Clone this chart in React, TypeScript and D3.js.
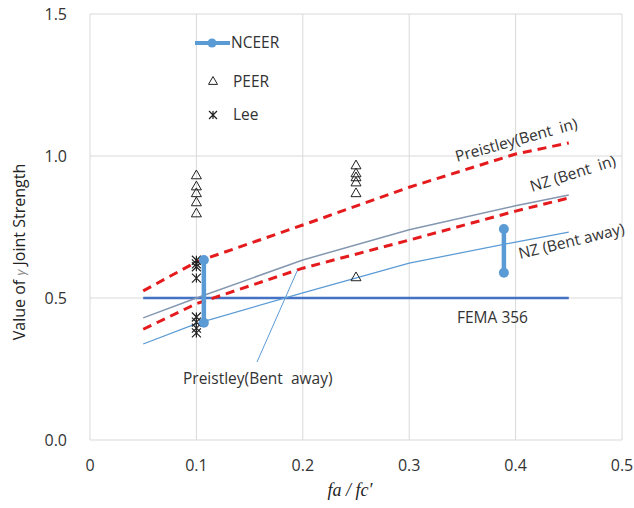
import React from "react";
import * as d3 from "d3";

const xTicks = [0, 0.1, 0.2, 0.3, 0.4, 0.5];
const yTicks = [0, 0.5, 1.0, 1.5];

const curveX = [0.05, 0.1, 0.2, 0.3, 0.4, 0.45];
const preistleyBentIn = [0.525, 0.627, 0.757, 0.89, 1.007, 1.046];
const nzBentIn = [0.43, 0.5, 0.634, 0.74, 0.825, 0.863];
const preistleyBentAway = [0.39, 0.48, 0.605, 0.704, 0.806, 0.852];
const nzBentAway = [0.338, 0.41, 0.518, 0.623, 0.697, 0.732];

const femaX = [0.05, 0.45];
const femaY = [0.5, 0.5];

const nceerX = [0.107, 0.389];
const nceerLow = [0.413, 0.589];
const nceerHigh = [0.634, 0.743];

const peerX = [0.1, 0.1, 0.1, 0.1, 0.1, 0.25, 0.25, 0.25, 0.25, 0.25, 0.25];
const peerY = [0.933, 0.894, 0.87, 0.838, 0.799, 0.968, 0.94, 0.926, 0.908, 0.87, 0.574];

const leeX = [0.1, 0.1, 0.1, 0.1, 0.1, 0.1, 0.1, 0.1];
const leeY = [0.633, 0.62, 0.61, 0.57, 0.433, 0.415, 0.394, 0.377];

const W = 634;
const H = 508;
const left = 90;
const right = 622;
const top = 14;
const bottom = 440;

const FONT = "'Open Sans', Lato, 'DejaVu Sans', sans-serif";
const TXT = "#333333";

export default function App() {
  const x = d3.scaleLinear().domain([0, 0.5]).range([left, right]);
  const y = d3.scaleLinear().domain([0, 1.5]).range([bottom, top]);
  const line = d3
    .line<number>()
    .x((_, i) => x(curveX[i]))
    .y((d) => y(d));

  const tri = (cx: number, cy: number, s = 5) =>
    `M${cx},${cy - s} L${cx + s},${cy + s * 0.75} L${cx - s},${cy + s * 0.75} Z`;
  const star = (cx: number, cy: number, s = 4.5) =>
    `M${cx - s},${cy - s} L${cx + s},${cy + s} M${cx + s},${cy - s} L${cx - s},${cy + s} M${cx},${cy - s} L${cx},${cy + s}`;

  const lbl = { fontFamily: FONT, fontSize: 15.5, fill: TXT, style: { whiteSpace: "pre" as const } };

  return (
    <svg width={W} height={H} style={{ position: "absolute", left: 0, top: 0, background: "#fff" }}>
      {xTicks.map((t) => (
        <line key={"gx" + t} x1={x(t)} x2={x(t)} y1={y(1.5)} y2={y(0)} stroke="#d9d9d9" strokeWidth={1} />
      ))}
      {yTicks.map((t) => (
        <line key={"gy" + t} x1={x(0)} x2={x(0.5)} y1={y(t)} y2={y(t)} stroke="#d9d9d9" strokeWidth={1} />
      ))}
      {xTicks.map((t) => (
        <text key={"tx" + t} x={x(t)} y={471} textAnchor="middle" fontFamily={FONT} fontSize={16} fill={TXT}>
          {t === 0 ? "0" : d3.format(".1f")(t)}
        </text>
      ))}
      {yTicks.map((t) => (
        <text key={"ty" + t} x={67} y={y(t) + 6} textAnchor="end" fontFamily={FONT} fontSize={16} fill={TXT}>
          {d3.format(".1f")(t)}
        </text>
      ))}
      <text x={350} y={496} textAnchor="middle" fontFamily="'Liberation Serif', 'DejaVu Serif', serif" fontStyle="italic" fontSize={18} fill="#222">
        fa / fc′
      </text>
      <text
        transform={`translate(25,${252}) rotate(-90)`}
        textAnchor="middle"
        fontFamily={FONT}
        fontSize={16}
        fill="#222"
      >
        Value of <tspan fontStyle="italic" fill="#888" fontSize={13}>γ</tspan> Joint Strength
      </text>

      <line x1={x(femaX[0])} x2={x(femaX[1])} y1={y(femaY[0])} y2={y(femaY[1])} stroke="#4472C4" strokeWidth={2.5} />

      <path d={line(nzBentIn) ?? ""} fill="none" stroke="#8497B0" strokeWidth={1.5} />
      <path d={line(nzBentAway) ?? ""} fill="none" stroke="#5B9BD5" strokeWidth={1.25} />
      <path d={line(preistleyBentIn) ?? ""} fill="none" stroke="#E41A1C" strokeWidth={3} strokeDasharray="9,6" />
      <path d={line(preistleyBentAway) ?? ""} fill="none" stroke="#E41A1C" strokeWidth={3} strokeDasharray="9,6" />

      <line x1={x(0.195)} y1={y(0.598)} x2={257} y2={362} stroke="#5B9BD5" strokeWidth={1} />

      {peerX.map((px, i) => (
        <path key={"p" + i} d={tri(x(px), y(peerY[i]))} fill="none" stroke="#222" strokeWidth={1} />
      ))}
      {leeX.map((lx, i) => (
        <path key={"l" + i} d={star(x(lx), y(leeY[i]))} fill="none" stroke="#222" strokeWidth={1.2} />
      ))}
      {nceerX.map((nx, i) => (
        <g key={"n" + i}>
          <line x1={x(nx)} x2={x(nx)} y1={y(nceerLow[i])} y2={y(nceerHigh[i])} stroke="#5B9BD5" strokeWidth={4.5} />
          <circle cx={x(nx)} cy={y(nceerLow[i])} r={5} fill="#5B9BD5" />
          <circle cx={x(nx)} cy={y(nceerHigh[i])} r={5} fill="#5B9BD5" />
        </g>
      ))}

      <text transform={`translate(457,162) rotate(-15.5)`} {...lbl}>
        {"Preistley(Bent  in)"}
      </text>
      <text transform={`translate(532,192) rotate(-17.5)`} {...lbl}>
        {"NZ (Bent  in)"}
      </text>
      <text transform={`translate(520,259) rotate(-13.5)`} {...lbl}>
        {"NZ (Bent away)"}
      </text>
      <text x={457} y={323} {...lbl}>
        {"FEMA 356"}
      </text>
      <text x={183} y={384} {...lbl}>
        {"Preistley(Bent  away)"}
      </text>

      <line x1={195} x2={230} y1={43} y2={43} stroke="#5B9BD5" strokeWidth={4} />
      <circle cx={212} cy={43} r={4.5} fill="#5B9BD5" />
      <text x={231} y={48} {...lbl}>NCEER</text>
      <path d={tri(213, 81, 4.5)} fill="none" stroke="#222" strokeWidth={1} />
      <text x={233} y={87} {...lbl}>PEER</text>
      <path d={star(213, 115, 4)} fill="none" stroke="#222" strokeWidth={1.2} />
      <text x={233} y={120} {...lbl}>Lee</text>
    </svg>
  );
}
